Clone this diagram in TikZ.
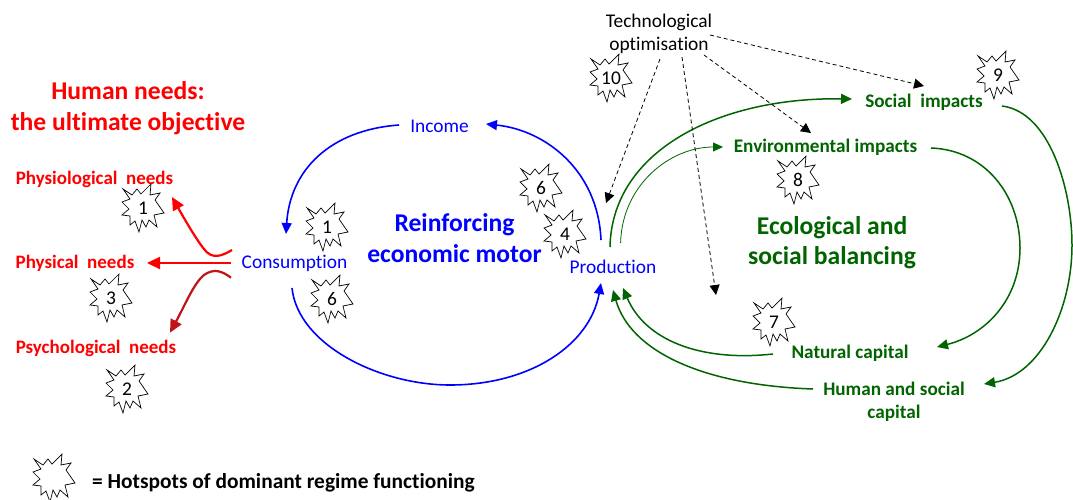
\documentclass[tikz,border=0pt]{standalone}
\usepackage{fontspec}
\setmainfont{Carlito}[Ligatures=NoCommon]
\usetikzlibrary{arrows.meta}
\definecolor{gr}{RGB}{0,100,0}
\definecolor{bl}{RGB}{0,0,255}
\definecolor{dred}{RGB}{192,20,24}
\newcommand{\fsz}[1]{\fontsize{#1}{#1}\selectfont}
\tikzset{
  x=1pt,y=-1pt,
  lbl/.style={inner sep=0pt,align=center},
  redl/.style={lbl,text=red,font=\fsz{19}\bfseries},
  redt/.style={lbl,text=red,font=\fsz{25.6}\bfseries},
  blut/.style={lbl,text=bl,font=\fsz{19.4}},
  blub/.style={lbl,text=bl,font=\fsz{25.6}\bfseries},
  grnl/.style={lbl,text=gr,font=\fsz{19.2}\bfseries},
  grnb/.style={lbl,text=gr,font=\fsz{25.6}\bfseries},
  blk/.style={lbl,text=black,font=\fsz{19.4}},
  hotnum/.style={lbl,text=black,font=\fsz{19.4}},
  blueflow/.style={draw=bl,line width=1.6pt,-{Triangle[length=11pt,width=10pt]}},
  greenflow/.style={draw=gr,line width=1.5pt,-{Triangle[length=11pt,width=10pt]}},
  greenthin/.style={draw=gr,line width=0.8pt,-{Triangle[length=10pt,width=9pt]}},
  redflow/.style={draw=red,line width=2.2pt,-{Triangle[length=13pt,width=12pt]}},
  dredflow/.style={draw=dred,line width=2.2pt,-{Triangle[length=13pt,width=12pt]}},
  dashflow/.style={draw=black,line width=0.8pt,dash pattern=on 4pt off 3pt,-{Triangle[length=10pt,width=10pt]}},
  burstline/.style={draw=black,fill=white,line width=0.7pt,miter limit=20},
}
\newcommand{\hot}[4]{%
  \draw[burstline,shift={(#2,#3)}] (-20,-19)--(-11,-13)--(-6,-19)--(-2,-14)--(8,-24)--(7,-13)--(17,-15)--(12,-8)--(21,5)--(11,7)--(14,19)--(6,12)--(3,19)--(-1,12)--(-4,24)--(-8,13)--(-13,17)--(-13,8)--(-21,7)--(-14,1)--(-21,-6)--(-13,-9)--cycle;
  \node[hotnum] (#1) at (#2,#3) {#4};}
\begin{document}
\begin{tikzpicture}
\fill[white] (0,0) rectangle (1073,500);
\useasboundingbox (0,0) rectangle (1073,500);

\node[redt] (title) at (128,108.5) {Human needs:\\[5.4pt]the ultimate objective};
\node[redl] (physio) at (94.5,179) {Physiological\ \ needs};
\node[redl] (physic) at (75,263) {Physical\ \ needs};
\node[redl] (psych) at (96,348) {Psychological\ \ needs};
\node[blut] (cons) at (294.5,263) {Consumption};
\node[blut] (income) at (439.5,126) {Income};
\node[blut] (prod) at (613,267) {Production};
\node[blub] (motor) at (454.5,238) {Reinforcing\\[5.4pt]economic motor};
\node[blk] (tech) at (659,33.5) {Technological\\[3.6pt]optimisation};
\node[grnl] (social) at (924,102) {Social\ \ impacts};
\node[grnl] (env) at (825.5,147) {Environmental impacts};
\node[grnb] (eco) at (832,242.5) {Ecological and\\[4.4pt]social balancing};
\node[grnl] (natural) at (850,353) {Natural capital};
\node[grnl] (human) at (894,402) {Human and social\\[3.8pt]capital};
\node[lbl,text=black,font=\fsz{21.4}\bfseries,anchor=west] (legend) at (92,482.5) {= Hotspots of dominant regime functioning};
\coordinate (gap) at (716,295);

% blue loop
\draw[blueflow] ([shift={(-40.5,-1)}]income.center) .. controls (330,130) and (290,170) .. ([shift={(-8.5,-29)}]cons.center);
\draw[blueflow] ([shift={(-2.5,25)}]cons.center) .. controls (298,345) and (380,385) .. (450,385) .. controls (530,385) and (590,345) .. ([shift={(-12,16)}]prod.center);
\draw[blueflow] ([shift={(-12,-27)}]prod.center) .. controls (598,170) and (545,130) .. ([shift={(46.5,-2)}]income.center);

% green loop
\draw[greenflow] ([shift={(-3,-20)}]prod.center) .. controls (612,150) and (720,97) .. ([shift={(-72,-3)}]social.center);
\draw[greenthin] ([shift={(7.6,-24)}]prod.center) .. controls (622,185) and (670,147) .. ([shift={(-102.5,0)}]env.center);
\draw[greenflow] ([shift={(105.5,1)}]env.center) .. controls (985,150) and (1020,195) .. (1020,248) .. controls (1020,300) and (985,335) .. ([shift={(87,-6)}]natural.center);
\draw[greenflow] ([shift={(78,4)}]social.center) .. controls (1050,112) and (1072,190) .. (1072,245) .. controls (1072,310) and (1040,375) .. ([shift={(90,-18)}]human.center);
\draw[greenflow] ([shift={(-77,1)}]natural.center) .. controls (700,362) and (645,340) .. ([shift={(10,21)}]prod.center);
\draw[greenflow] ([shift={(-81,-13)}]human.center) .. controls (700,385) and (630,350) .. ([shift={(0,23)}]prod.center);

% technological optimisation
\draw[dashflow] ([shift={(1,25.5)}]tech.center) -- ([shift={(-7,-64)}]prod.center);
\draw[dashflow] ([shift={(23,23.5)}]tech.center) -- (gap);
\draw[dashflow] ([shift={(45,21.5)}]tech.center) -- ([shift={(-14.5,-14)}]env.center);
\draw[dashflow] ([shift={(51,1.5)}]tech.center) -- ([shift={(0,-16)}]social.center);

% needs
\draw[redflow] ([shift={(-62.5,-13)}]cons.center) .. controls (222,256) and (212,260) .. (204,249) .. controls (196,239) and (185,220) .. ([shift={(77.5,18)}]physio.center);
\draw[redflow] ([shift={(-63.5,0)}]cons.center) -- ([shift={(72,0)}]physic.center);
\draw[dredflow] ([shift={(-63.5,14.7)}]cons.center) .. controls (222,271) and (214,268) .. (204,275) .. controls (194,283) and (185,305) .. ([shift={(74,-15.3)}]psych.center);

% hotspots
\hot{hA}{143}{208}{1}
\hot{hB}{327}{227}{1}
\hot{hC}{111}{298}{3}
\hot{hD}{127}{389}{2}
\hot{hE}{332}{299}{6}
\hot{hF}{541}{188}{6}
\hot{hG}{565}{234}{4}
\hot{hH}{611}{78}{10}
\hot{hI}{998}{75}{9}
\hot{hJ}{798}{180}{8}
\hot{hK}{774}{322}{7}
\draw[burstline,shift={(54,478)}] (-20,-19)--(-11,-13)--(-6,-19)--(-2,-14)--(8,-24)--(7,-13)--(17,-15)--(12,-8)--(21,5)--(11,7)--(14,19)--(6,12)--(3,19)--(-1,12)--(-4,24)--(-8,13)--(-13,17)--(-13,8)--(-21,7)--(-14,1)--(-21,-6)--(-13,-9)--cycle;
\end{tikzpicture}
\end{document}
